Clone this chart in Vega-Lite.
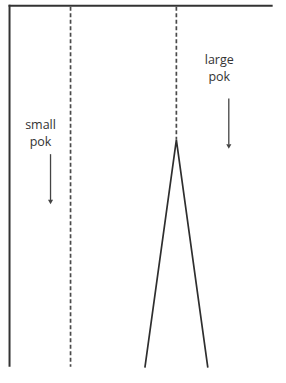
{
  "$schema": "https://vega.github.io/schema/vega-lite/v6.json",
  "width": 286,
  "height": 383,
  "padding": 0,
  "autosize": {"type": "none"},
  "background": "white",
  "config": {"view": {"stroke": null}},
  "datasets": {
    "frame": [
      {"x": 9, "x2": 286, "y": 6, "y2": 6},
      {"x": 10, "x2": 10, "y": 5, "y2": 383}
    ],
    "dashed": [
      {"x": 74, "x2": 74, "y": 7, "y2": 383},
      {"x": 185, "x2": 185, "y": 7, "y2": 146}
    ],
    "peak": [
      {"o": 1, "x": 152, "y": 384},
      {"o": 2, "x": 185, "y": 146},
      {"o": 3, "x": 218, "y": 384}
    ],
    "shafts": [
      {"x": 53, "x2": 53, "y": 161, "y2": 209},
      {"x": 240, "x2": 240, "y": 103, "y2": 151}
    ],
    "heads": [
      {"x": 53, "y": 211},
      {"x": 240, "y": 153}
    ],
    "labels": [
      {"x": 42.5, "y": 135, "t": "small"},
      {"x": 42.5, "y": 153, "t": "pok"},
      {"x": 230, "y": 67, "t": "large"},
      {"x": 230, "y": 85, "t": "pok"}
    ]
  },
  "layer": [
    {
      "data": {"name": "frame"},
      "mark": {"type": "rule", "color": "#333333", "strokeWidth": 2},
      "encoding": {
        "x": {"field": "x", "type": "quantitative", "scale": {"domain": [0, 286]}, "axis": null},
        "x2": {"field": "x2"},
        "y": {"field": "y", "type": "quantitative", "scale": {"domain": [0, 383], "reverse": true}, "axis": null},
        "y2": {"field": "y2"}
      }
    },
    {
      "data": {"name": "dashed"},
      "mark": {"type": "rule", "color": "#4a4a4a", "strokeWidth": 1.7, "strokeDash": [4, 2.5]},
      "encoding": {
        "x": {"field": "x", "type": "quantitative"},
        "x2": {"field": "x2"},
        "y": {"field": "y", "type": "quantitative"},
        "y2": {"field": "y2"}
      }
    },
    {
      "data": {"name": "peak"},
      "mark": {"type": "line", "color": "#2e2e2e", "strokeWidth": 1.7, "clip": true},
      "encoding": {
        "x": {"field": "x", "type": "quantitative"},
        "y": {"field": "y", "type": "quantitative"},
        "order": {"field": "o"}
      }
    },
    {
      "data": {"name": "shafts"},
      "mark": {"type": "rule", "color": "#444444", "strokeWidth": 1.3},
      "encoding": {
        "x": {"field": "x", "type": "quantitative"},
        "x2": {"field": "x2"},
        "y": {"field": "y", "type": "quantitative"},
        "y2": {"field": "y2"}
      }
    },
    {
      "data": {"name": "heads"},
      "mark": {"type": "point", "shape": "triangle-down", "filled": true, "color": "#444444", "size": 26, "opacity": 1},
      "encoding": {
        "x": {"field": "x", "type": "quantitative"},
        "y": {"field": "y", "type": "quantitative"}
      }
    },
    {
      "data": {"name": "labels"},
      "mark": {"type": "text", "font": "Open Sans", "fontSize": 12.5, "color": "#333333", "align": "center", "baseline": "alphabetic"},
      "encoding": {
        "x": {"field": "x", "type": "quantitative"},
        "y": {"field": "y", "type": "quantitative"},
        "text": {"field": "t"}
      }
    }
  ]
}
